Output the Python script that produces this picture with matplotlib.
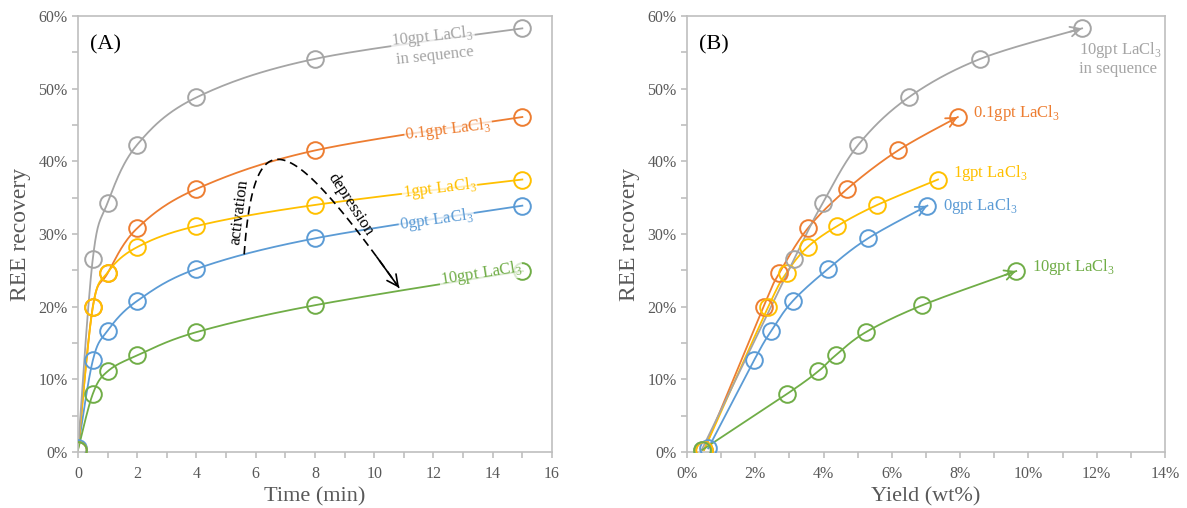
"""REE recovery vs time and yield, two panels."""

import matplotlib
matplotlib.use('Agg')
import matplotlib.pyplot as plt
import numpy as np

plt.rcParams['font.family'] = ['Liberation Serif', 'DejaVu Serif']
plt.rcParams['mathtext.fontset'] = 'custom'
plt.rcParams['mathtext.rm'] = 'Liberation Serif'

# data
time_min = [0, 0.5, 1, 2, 4, 8, 15]
series_names = ['0gpt', '0.1gpt', '1gpt', '10gpt seq', '10gpt']
recovery = {
    '0gpt':      [0.5, 12.6, 16.7, 20.8, 25.2, 29.4, 33.9],
    '0.1gpt':    [0.3, 20.0, 24.6, 30.8, 36.2, 41.5, 46.1],
    '1gpt':      [0.3, 19.9, 24.7, 28.2, 31.1, 34.0, 37.5],
    '10gpt seq': [0.3, 26.6, 34.3, 42.3, 48.8, 54.1, 58.3],
    '10gpt':     [0.3, 8.0, 11.1, 13.3, 16.5, 20.2, 24.9],
}
yield_wt = {
    '0gpt':      [0.62, 1.96, 2.47, 3.10, 4.13, 5.30, 7.04],
    '0.1gpt':    [0.50, 2.24, 2.70, 3.54, 4.69, 6.18, 7.93],
    '1gpt':      [0.50, 2.37, 2.92, 3.53, 4.40, 5.57, 7.35],
    '10gpt seq': [0.43, 3.14, 3.98, 5.02, 6.49, 8.59, 11.57],
    '10gpt':     [0.45, 2.93, 3.84, 4.35, 5.24, 6.89, 9.64],
}
colors = {
    '0gpt': '#5B9BD5', '0.1gpt': '#ED7D31', '1gpt': '#FFC000',
    '10gpt seq': '#A5A5A5', '10gpt': '#70AD47',
}
labels = {
    '0gpt': r'0gpt LaCl$_3$', '0.1gpt': r'0.1gpt LaCl$_3$',
    '1gpt': r'1gpt LaCl$_3$', '10gpt seq': '10gpt LaCl$_3$\nin sequence',
    '10gpt': r'10gpt LaCl$_3$',
}


def smooth(x, y, n=30):
    """Excel-style smoothed line (Catmull-Rom / Bezier with 1/6 handles)."""
    p = np.column_stack([x, y]).astype(float)
    ext = np.vstack([p[0], p, p[-1]])
    out = []
    t = np.linspace(0, 1, n)[:, None]
    for i in range(len(p) - 1):
        p0, p1, p2, p3 = ext[i], ext[i + 1], ext[i + 2], ext[i + 3]
        c1 = p1 + (p2 - p0) / 6
        c2 = p2 - (p3 - p1) / 6
        seg = ((1 - t) ** 3) * p1 + 3 * ((1 - t) ** 2) * t * c1 \
            + 3 * (1 - t) * t ** 2 * c2 + t ** 3 * p2
        out.append(seg if i == 0 else seg[1:])
    s = np.vstack(out)
    return s[:, 0], s[:, 1]


fig = plt.figure(figsize=(11.87, 5.08), dpi=100)
axA = fig.add_axes([0.0657, 0.1102, 0.3993, 0.8583])
axB = fig.add_axes([0.5788, 0.1102, 0.4027, 0.8583])

tick_col = '#595959'
spine_col = '#BFBFBF'

for ax in (axA, axB):
    for sp in ax.spines.values():
        sp.set_color(spine_col)
        sp.set_linewidth(1.2)
    ax.set_ylim(0, 60)
    ax.set_yticks(np.arange(0, 61, 10))
    ax.set_yticks(np.arange(0, 61, 5), minor=True)
    ax.set_yticklabels([f'{v}%' for v in range(0, 61, 10)])
    ax.tick_params(which='both', direction='out', color=spine_col,
                   labelcolor=tick_col, labelsize=11.5, length=4, width=1.2)
    ax.tick_params(axis='x', pad=6)
    ax.set_ylabel('REE recovery', fontsize=17, color=tick_col, labelpad=5)

for name in series_names:
    c = colors[name]
    # panel A
    sx, sy = smooth(time_min, recovery[name])
    axA.plot(sx, sy, color=c, lw=1.3, zorder=2)
    axA.plot(time_min, recovery[name], 'o', mfc='none', mec=c, ms=12,
             mew=1.4, zorder=3)
    # panel B
    bx, by = smooth(yield_wt[name], recovery[name])
    axB.plot(bx, by, color=c, lw=1.3, zorder=2)
    axB.plot(yield_wt[name], recovery[name], 'o', mfc='none', mec=c, ms=12,
             mew=1.4, zorder=3)
    if name != '1gpt':
        axB.annotate('', xy=(bx[-1], by[-1]), xytext=(bx[-6], by[-6]),
                     arrowprops=dict(arrowstyle='->,head_length=0.7,head_width=0.35',
                                     color=c, lw=1.3, shrinkA=0, shrinkB=0),
                     zorder=4)

# panel A axes
axA.set_xlim(0, 16)
axA.set_xticks(np.arange(0, 17, 2))
axA.set_xticks(np.arange(0, 17, 1), minor=True)
axA.set_xlabel('Time (min)', fontsize=16, color=tick_col, labelpad=4)
axA.text(0.025, 0.955, '(A)', transform=axA.transAxes, fontsize=16,
         va='top', ha='left')

box = dict(facecolor='white', edgecolor='none', alpha=0.75, pad=0.5)
a_lab = {
    '10gpt seq': (12.0, 56.0, 6),
    '0.1gpt': (12.5, 44.4, 7),
    '1gpt': (12.2, 36.3, 7),
    '0gpt': (12.1, 31.9, 8),
    '10gpt': (13.6, 24.6, 9),
}
for name, (x, y, rot) in a_lab.items():
    axA.text(x, y, labels[name], color=colors[name], fontsize=12,
             rotation=rot, ha='center', va='center', multialignment='center',
             rotation_mode='anchor', bbox=box, zorder=5, linespacing=1.1)

# activation / depression dashed arrow (cubic bezier)
P = np.array([[5.61, 27.2], [5.95, 46.5], [7.1, 44.0], [10.84, 22.6]])
tt = np.linspace(0, 1, 100)[:, None]
curve = ((1 - tt) ** 3) * P[0] + 3 * ((1 - tt) ** 2) * tt * P[1] \
    + 3 * (1 - tt) * tt ** 2 * P[2] + tt ** 3 * P[3]
axA.plot(curve[:, 0], curve[:, 1], color='black', lw=1.2, ls=(0, (5, 3)),
         zorder=4)
axA.annotate('', xy=curve[-1], xytext=curve[-8],
             arrowprops=dict(arrowstyle='->,head_length=0.8,head_width=0.4',
                             color='black', lw=1.2, shrinkA=0, shrinkB=0),
             zorder=4)
axA.text(5.45, 33.0, 'activation', rotation=83, fontsize=12, ha='center',
         va='center', rotation_mode='anchor')
axA.text(9.2, 34.0, 'depression', rotation=-57, fontsize=12, ha='center',
         va='center', rotation_mode='anchor')

# panel B axes
axB.set_xlim(0, 14)
axB.set_xticks(np.arange(0, 15, 2))
axB.set_xticks(np.arange(0, 15, 1), minor=True)
axB.set_xticklabels([f'{v}%' for v in range(0, 15, 2)])
axB.set_xlabel('Yield (wt%)', fontsize=16, color=tick_col, labelpad=4)
axB.text(0.025, 0.955, '(B)', transform=axB.transAxes, fontsize=16,
         va='top', ha='left')

b_lab = {
    '10gpt seq': (11.47, 54.2),
    '0.1gpt': (8.38, 46.7),
    '1gpt': (7.79, 38.4),
    '0gpt': (7.49, 33.9),
    '10gpt': (10.1, 25.4),
}
for name, (x, y) in b_lab.items():
    axB.text(x, y, labels[name], color=colors[name], fontsize=12,
             ha='left', va='center', linespacing=1.1)

fig.savefig('out.png', dpi=100)
